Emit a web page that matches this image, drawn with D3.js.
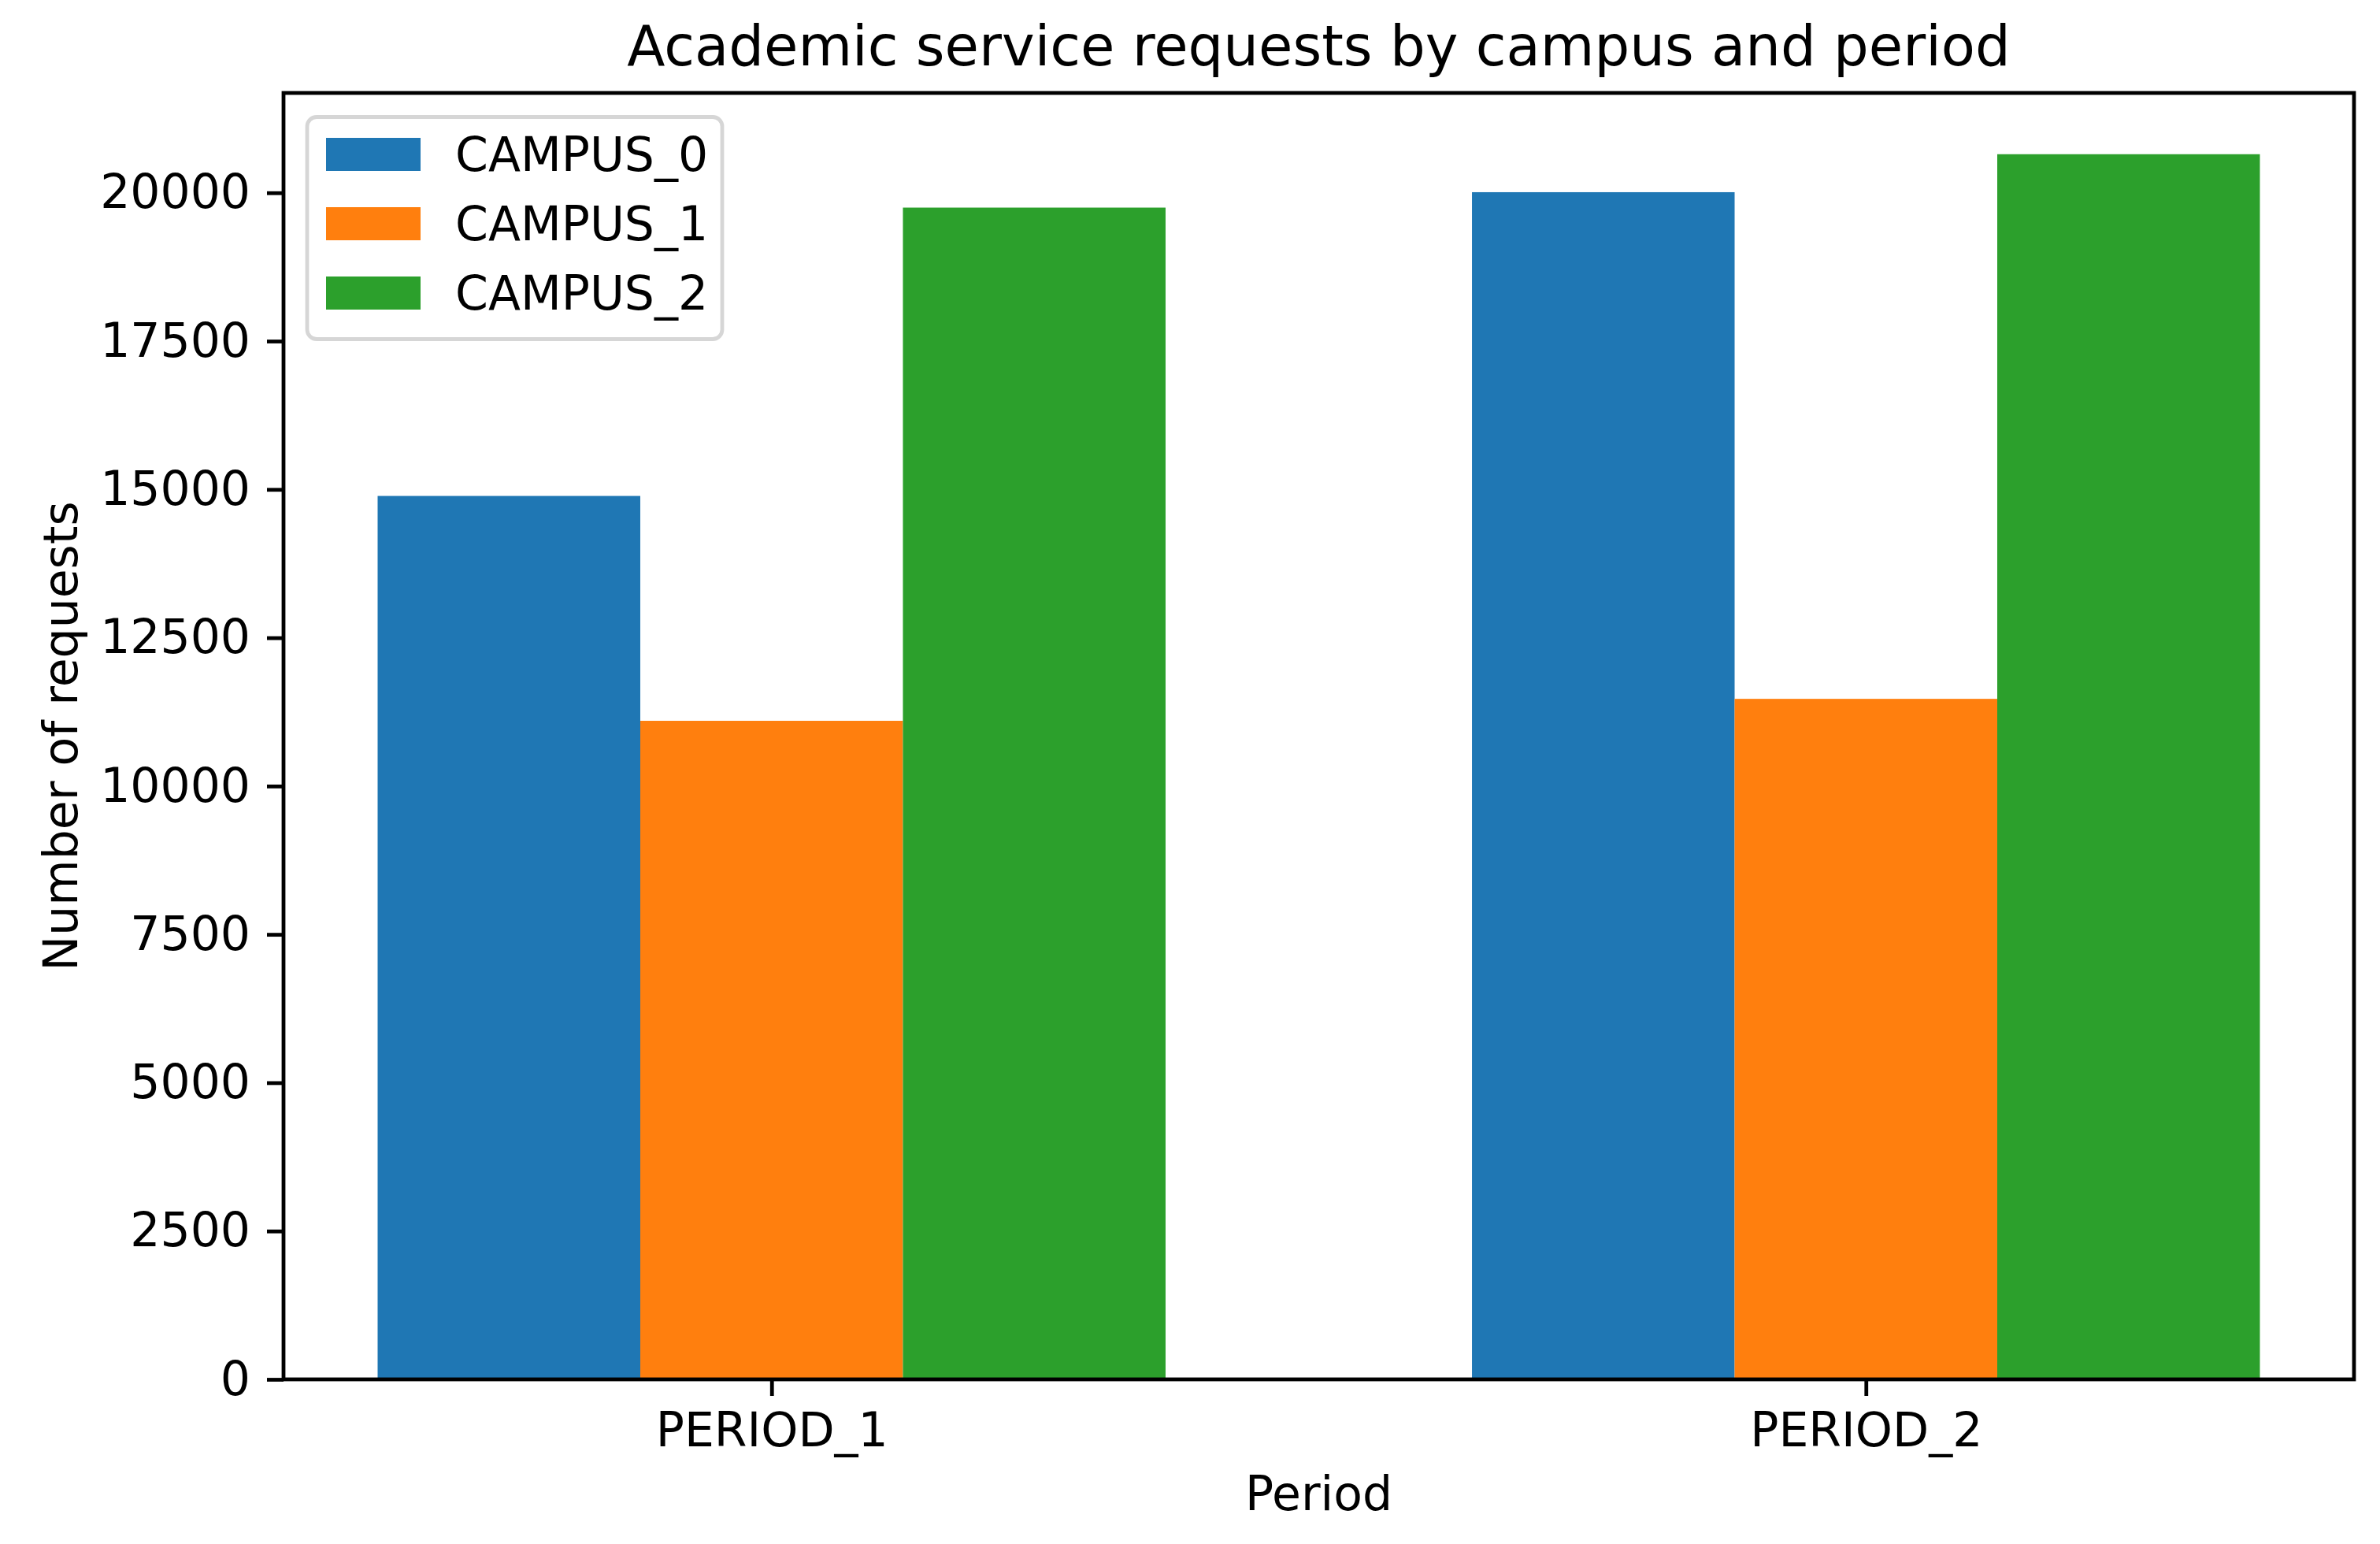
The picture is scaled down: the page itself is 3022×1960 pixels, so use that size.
<!DOCTYPE html>
<html>
<head>
<meta charset="utf-8">
<script src="https://cdn.jsdelivr.net/npm/d3@7"></script>
<style>
  body { margin: 0; background: #fff; }
  .chart-container { width: 3022px; height: 1960px; }
  text { font-family: "DejaVu Sans", sans-serif; fill: #000; }
</style>
</head>
<body>
<div class="chart-container"></div>
<script>
var periods = ['PERIOD_1', 'PERIOD_2'];
var campuses = ['CAMPUS_0', 'CAMPUS_1', 'CAMPUS_2'];
var campus0 = [14890, 20010];
var campus1 = [11100, 11470];
var campus2 = [19750, 20650];
var yTicks = [0, 2500, 5000, 7500, 10000, 12500, 15000, 17500, 20000];
var colors = ['#1f77b4', '#ff7f0e', '#2ca02c'];

var series = [campus0, campus1, campus2];

var width = 3022,
    height = 1960;
var margin = { top: 118, right: 33, bottom: 209, left: 360 };
var innerW = width - margin.left - margin.right,
    innerH = height - margin.top - margin.bottom;
var fontSize = 60;
var lw = 4.8;
var barW = 0.24;

var svg = d3.select('.chart-container').append('svg')
  .attr('width', width)
  .attr('height', height);

svg.append('rect')
  .attr('width', width)
  .attr('height', height)
  .attr('fill', '#fff');

var g = svg.append('g')
  .attr('transform', 'translate(' + margin.left + ',' + margin.top + ')');

// numeric x like matplotlib: groups at 0,1 with 5% margin around bar extent
var lo = -1.5 * barW, hi = periods.length - 1 + 1.5 * barW;
var pad = (hi - lo) * 0.05;
var x = d3.scaleLinear()
  .domain([lo - pad, hi + pad])
  .range([0, innerW]);

var ymax = d3.max(series, function(s) { return d3.max(s); });
var y = d3.scaleLinear()
  .domain([0, ymax * 1.05])
  .range([innerH, 0]);

// bars
series.forEach(function(vals, si) {
  g.selectAll('.bar-' + si)
    .data(vals)
    .enter().append('rect')
    .attr('class', 'bar-' + si)
    .attr('x', function(d, i) { return x(i + (si - 1) * barW - barW / 2); })
    .attr('width', function(d, i) { return x(i + barW) - x(i); })
    .attr('y', function(d) { return y(d); })
    .attr('height', function(d) { return y(0) - y(d); })
    .attr('fill', colors[si]);
});

// axes
var yAxis = d3.axisLeft(y)
  .tickValues(yTicks)
  .tickFormat(d3.format('d'))
  .tickSize(21)
  .tickPadding(21);

var xAxis = d3.axisBottom(x)
  .tickValues(periods.map(function(p, i) { return i; }))
  .tickFormat(function(d) { return periods[d]; })
  .tickSize(21)
  .tickPadding(21);

var gy = g.append('g').call(yAxis);
var gx = g.append('g').attr('transform', 'translate(0,' + innerH + ')').call(xAxis);

[gx, gy].forEach(function(ax) {
  ax.select('.domain').remove();
  ax.selectAll('.tick line').attr('stroke', '#000').attr('stroke-width', lw);
  ax.selectAll('.tick text')
    .attr('font-family', '"DejaVu Sans", sans-serif')
    .attr('font-size', fontSize)
    .attr('fill', '#000');
});

// frame on top of bars
g.append('rect')
  .attr('width', innerW)
  .attr('height', innerH)
  .attr('fill', 'none')
  .attr('stroke', '#000')
  .attr('stroke-width', lw);

// title and labels
svg.append('text')
  .attr('x', margin.left + innerW / 2)
  .attr('y', 83)
  .attr('text-anchor', 'middle')
  .attr('font-size', 70.5)
  .text('Academic service requests by campus and period');

svg.append('text')
  .attr('x', margin.left + innerW / 2)
  .attr('y', 1917)
  .attr('text-anchor', 'middle')
  .attr('font-size', fontSize)
  .text('Period');

svg.append('text')
  .attr('transform', 'translate(98,' + (margin.top + innerH / 2) + ') rotate(-90)')
  .attr('text-anchor', 'middle')
  .attr('font-size', fontSize)
  .text('Number of requests');

// legend
var legend = svg.append('g').attr('class', 'legend');

legend.append('rect')
  .attr('x', 390)
  .attr('y', 148.5)
  .attr('width', 527)
  .attr('height', 282)
  .attr('rx', 12)
  .attr('ry', 12)
  .attr('fill', '#fff')
  .attr('fill-opacity', 0.8)
  .attr('stroke', '#d6d6d6')
  .attr('stroke-width', lw);

var items = legend.selectAll('.item')
  .data(campuses)
  .enter().append('g')
  .attr('class', 'item')
  .attr('transform', function(d, i) { return 'translate(0,' + (i * 88) + ')'; });

items.append('rect')
  .attr('x', 414)
  .attr('y', 175)
  .attr('width', 120)
  .attr('height', 42)
  .attr('fill', function(d, i) { return colors[i]; });

items.append('text')
  .attr('x', 578)
  .attr('y', 217)
  .attr('font-size', fontSize)
  .text(function(d) { return d; });
</script>
</body>
</html>
